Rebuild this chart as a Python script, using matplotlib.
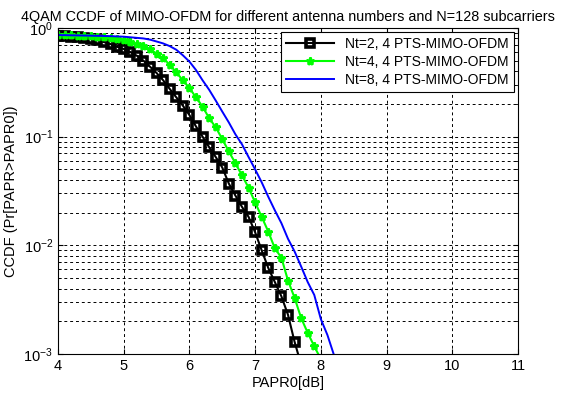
import numpy as np
import matplotlib
matplotlib.use('Agg')
import matplotlib.pyplot as plt
from matplotlib.ticker import LogLocator, NullFormatter

plt.rcParams['font.family'] = ['Liberation Sans', 'DejaVu Sans']

# PAPR0 grid in dB, 0.1 dB steps
papr_nt2 = np.round(np.arange(4.0, 7.71, 0.1), 1)
ccdf_nt2 = [0.85, 0.84, 0.83, 0.82, 0.81, 0.79, 0.77, 0.74, 0.71, 0.67,
            0.64, 0.60, 0.555, 0.50, 0.44, 0.385, 0.33, 0.275, 0.23, 0.193,
            0.158, 0.124, 0.100, 0.080, 0.065, 0.052, 0.037, 0.0287, 0.0226, 0.0183,
            0.0132, 0.0090, 0.0062, 0.0046, 0.0034, 0.0023, 0.0013, 0.0008]

papr_nt4 = np.round(np.arange(4.0, 8.01, 0.1), 1)
ccdf_nt4 = [0.86, 0.86, 0.855, 0.85, 0.845, 0.84, 0.83, 0.82, 0.81, 0.79,
            0.77, 0.74, 0.71, 0.675, 0.64, 0.58, 0.526, 0.46, 0.39, 0.33,
            0.28, 0.23, 0.189, 0.148, 0.122, 0.095, 0.073, 0.057, 0.044, 0.034,
            0.0248, 0.0183, 0.0134, 0.0094, 0.0077, 0.00475, 0.0033, 0.00215, 0.00157, 0.00118,
            0.0009]

papr_nt8 = np.round(np.arange(4.0, 8.31, 0.1), 1)
ccdf_nt8 = [0.86, 0.858, 0.855, 0.853, 0.85, 0.848, 0.845, 0.843, 0.84, 0.835,
            0.83, 0.82, 0.81, 0.80, 0.78, 0.75, 0.72, 0.68, 0.63, 0.56,
            0.49, 0.41, 0.33, 0.27, 0.215, 0.17, 0.135, 0.105, 0.085, 0.065,
            0.050, 0.038, 0.028, 0.021, 0.016, 0.0115, 0.0088, 0.0064, 0.0046, 0.0035,
            0.0021, 0.0015, 0.00098, 0.0007]

labels = ['Nt=2, 4 PTS-MIMO-OFDM', 'Nt=4, 4 PTS-MIMO-OFDM', 'Nt=8, 4 PTS-MIMO-OFDM']

fig = plt.figure(figsize=(5.63, 3.93), dpi=100)
ax = fig.add_axes([0.103, 0.099, 0.817, 0.830])

ax.semilogy(papr_nt2, ccdf_nt2, color='black', lw=1.5, marker='s', ms=5.5,
            mfc='none', mec='black', mew=2.6, label=labels[0])
ax.semilogy(papr_nt4, ccdf_nt4, color='#00ff00', lw=1.5, marker='*', ms=6,
            mec='#00ff00', mew=1.8, label=labels[1])
ax.semilogy(papr_nt8, ccdf_nt8, color='#0000ff', lw=1.4, label=labels[2])

ax.set_xlim(4, 11)
ax.set_ylim(1e-3, 1)
ax.set_xticks(range(4, 12))
ax.yaxis.set_minor_locator(LogLocator(base=10, subs=np.arange(2, 10)))
ax.yaxis.set_minor_formatter(NullFormatter())
ax.grid(True, which='both', color='black', linestyle=(0, (3, 3)), lw=0.7)
ax.tick_params(which='both', direction='in', top=True, right=True, labelsize=10.5)
ax.tick_params(which='minor', length=2)

ax.set_title('4QAM CCDF of MIMO-OFDM for different antenna numbers and N=128 subcarriers',
             fontsize=10.4, pad=5)
ax.set_xlabel('PAPR0[dB]', fontsize=10.5, labelpad=2)
ax.set_ylabel('CCDF (Pr[PAPR>PAPR0])', fontsize=10.5)

leg = ax.legend(loc='upper right', fontsize=10, fancybox=False, framealpha=1,
                edgecolor='black', borderaxespad=0.3, handlelength=3.5,
                borderpad=0.35, labelspacing=0.3)
leg.get_frame().set_linewidth(0.8)

fig.savefig('out.png', dpi=100)
